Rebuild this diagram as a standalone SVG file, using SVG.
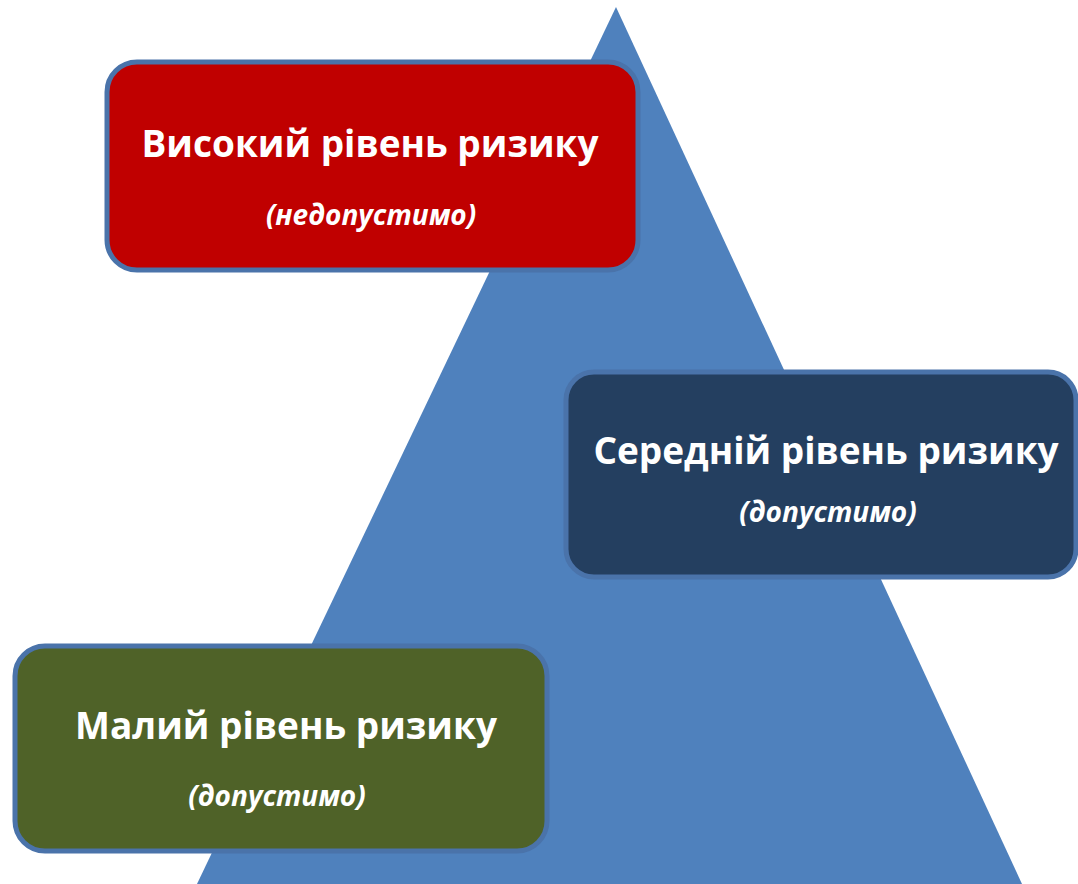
<svg xmlns="http://www.w3.org/2000/svg" width="1078" height="884" viewBox="0 0 1078 884">
<style>
.box{stroke:#4a73aa;stroke-width:5}
.t{font-family:"Open Sans","Noto Sans","DejaVu Sans",sans-serif;font-weight:bold;fill:#ffffff;text-anchor:middle}
.title{font-size:37px}
.sub{font-size:28px;font-style:italic}
</style>
<rect width="1078" height="884" fill="#ffffff"/>
<polygon id="pyramid" points="616,7 1022,884 197,884" fill="#4f81bd"/>
<g id="high">
<rect class="box" x="107" y="62" width="531" height="208" rx="30" fill="#c00000"/>
<text class="t title" x="370" y="157">Високий рівень ризику</text>
<text class="t sub" x="371" y="225">(недопустимо)</text>
</g>
<g id="medium">
<rect class="box" x="566" y="372" width="510" height="205" rx="28" fill="#243f60"/>
<text class="t title" x="826" y="464">Середній рівень ризику</text>
<text class="t sub" x="828" y="522">(допустимо)</text>
</g>
<g id="low">
<rect class="box" x="15" y="646" width="532" height="205" rx="30" fill="#4f6228"/>
<text class="t title" x="286" y="739">Малий рівень ризику</text>
<text class="t sub" x="277" y="806">(допустимо)</text>
</g>
</svg>
